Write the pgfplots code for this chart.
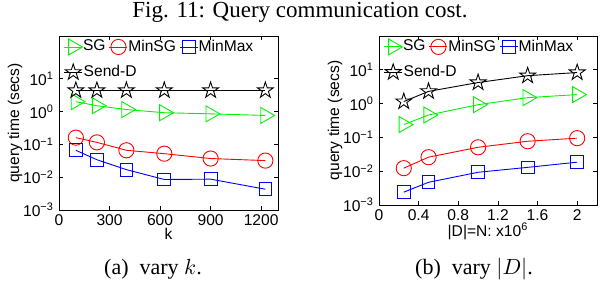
\documentclass[border=0pt]{standalone}
\usepackage{fontspec}
\setmainfont{Liberation Serif}
\newfontfamily\axfont{Liberation Sans}
\usepackage{pgfplots}
\pgfplotsset{compat=1.18}
\pgfdeclareplotmark{pentagram}{%
  \pgfpathmoveto{\pgfpointpolar{90}{\pgfplotmarksize}}%
  \pgfpathlineto{\pgfpointpolar{126}{0.382\pgfplotmarksize}}%
  \pgfpathlineto{\pgfpointpolar{162}{\pgfplotmarksize}}%
  \pgfpathlineto{\pgfpointpolar{198}{0.382\pgfplotmarksize}}%
  \pgfpathlineto{\pgfpointpolar{234}{\pgfplotmarksize}}%
  \pgfpathlineto{\pgfpointpolar{270}{0.382\pgfplotmarksize}}%
  \pgfpathlineto{\pgfpointpolar{306}{\pgfplotmarksize}}%
  \pgfpathlineto{\pgfpointpolar{342}{0.382\pgfplotmarksize}}%
  \pgfpathlineto{\pgfpointpolar{18}{\pgfplotmarksize}}%
  \pgfpathlineto{\pgfpointpolar{54}{0.382\pgfplotmarksize}}%
  \pgfpathclose
  \pgfusepathqstroke
}
\definecolor{mgreen}{rgb}{0,0.95,0}
\definecolor{mred}{rgb}{1,0,0}
\definecolor{mblue}{rgb}{0,0,1}
\newcommand\axf{\axfont\fontsize{7.8}{8}\selectfont}
\pgfplotsset{
  every axis/.append style={
    scale only axis,
    axis line style={line width=0.5pt},
    tick align=inside,
    major tick length=2pt,
    tick style={black, line width=0.4pt},
    every tick label/.append style={font=\axf},
    yticklabel style={xshift=1pt},
    xticklabel style={yshift=1pt},
    label style={font=\axf},
    ylabel style={yshift=-6.5pt},
    xlabel style={yshift=6pt},
    legend columns=3,
    legend style={draw=none, fill=none, at={(0.02,0.985)}, anchor=north west,
      font=\axf, inner sep=0pt,
      column sep=0pt, row sep=4.5pt,
      nodes={inner sep=0.2pt},
      /tikz/every even column/.append style={column sep=1.5pt}},
    legend cell align=left,
    legend image code/.code={\draw[mark repeat=2,mark phase=2] plot coordinates {(0pt,0pt)(4.5pt,0pt)(9pt,0pt)};},
  },
  every axis plot/.append style={line width=0.45pt, mark options={solid, line width=0.45pt}},
}
\tikzset{
  sg/.style={mgreen, mark=triangle, mark size=4.6pt, mark options={rotate=-90}},
  msg/.style={mred, mark=o, mark size=3.8pt},
  mm/.style={mblue, mark=square, mark size=3.2pt},
  sd/.style={black, mark=pentagram, mark size=4.2pt},
}
\begin{document}
\begin{tikzpicture}
\path[use as bounding box] (0,0) rectangle (300pt,140pt);
\node[font=\fontsize{11.5}{12}\selectfont] at (150pt,134pt) {Fig. 11: Query communication cost.};
\begin{axis}[
  at={(29.5pt,122pt)}, anchor=north west,
  width=109.5pt, height=87pt,
  ymode=log, ymin=1e-3, ymax=200,
  yminorticks=false,
  ytick={1e-3,1e-2,1e-1,1,10},
  yticklabels={10\textsuperscript{−3},10\textsuperscript{−2},10\textsuperscript{−1},10\textsuperscript{0},10\textsuperscript{1}},
  ylabel={query time (secs)},
  xmin=0, xmax=1300,
  xtick={0,300,600,900,1200},
  xticklabels={0,300,600,900,1200},
  xlabel={k},
]
\addplot[sg] coordinates {(100,2.0)(225,1.5)(400,1.15)(625,0.92)(900,0.85)(1225,0.76)};
\addlegendentry{SG}
\addplot[msg] coordinates {(100,0.16)(225,0.115)(400,0.066)(625,0.052)(900,0.037)(1225,0.032)};
\addlegendentry{MinSG}
\addplot[mm] coordinates {(100,0.066)(225,0.034)(400,0.017)(625,0.0085)(900,0.0087)(1225,0.0043)};
\addlegendentry{MinMax}
\addplot[sd] coordinates {(100,4.4)(225,4.4)(400,4.4)(625,4.4)(900,4.4)(1225,4.4)};
\addlegendentry{\makebox[0pt][l]{Send{-}D}}
\end{axis}
\begin{axis}[
  at={(189.5pt,122pt)}, anchor=north west,
  width=109pt, height=84.5pt,
  ymode=log, ymin=1e-3, ymax=100,
  yminorticks=false,
  ytick={1e-3,1e-2,1e-1,1,10},
  yticklabels={10\textsuperscript{−3},10\textsuperscript{−2},10\textsuperscript{−1},10\textsuperscript{0},10\textsuperscript{1}},
  ylabel={query time (secs)},
  xmin=0, xmax=2.2,
  xtick={0,0.4,0.8,1.2,1.6,2},
  xticklabels={0,0.4,0.8,1.2,1.6,2},
  xlabel={|D|=N: x10\textsuperscript{6}},
]
\addplot[sg] coordinates {(0.25,0.24)(0.5,0.46)(1,0.93)(1.5,1.5)(2,1.85)};
\addlegendentry{SG}
\addplot[msg] coordinates {(0.25,0.0123)(0.5,0.026)(1,0.051)(1.5,0.077)(2,0.095)};
\addlegendentry{MinSG}
\addplot[mm] coordinates {(0.25,0.0024)(0.5,0.0047)(1,0.0093)(1.5,0.013)(2,0.0185)};
\addlegendentry{MinMax}
\addplot[sd] coordinates {(0.25,1.15)(0.5,2.3)(1,4.2)(1.5,6.7)(2,8.3)};
\addlegendentry{\makebox[0pt][l]{Send{-}D}}
\end{axis}
\node[font=\fontsize{11}{12}\selectfont] at (76.5pt,5.5pt) {(a)\enspace vary $k$.};
\node[font=\fontsize{11}{12}\selectfont] at (237pt,5.5pt) {(b)\enspace vary $|D|$.};
\end{tikzpicture}
\end{document}
